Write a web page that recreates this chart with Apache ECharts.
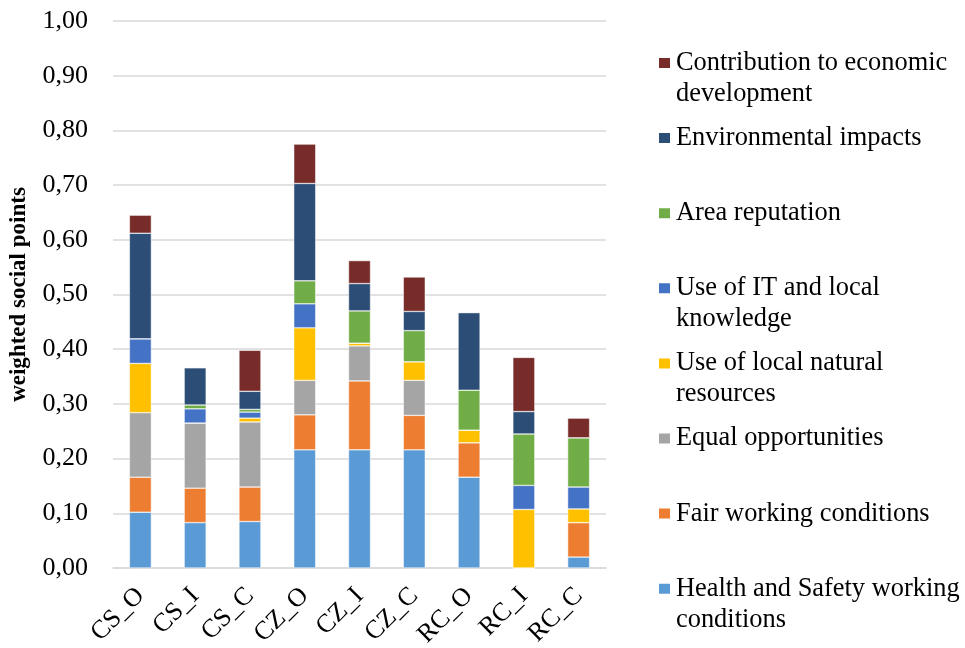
<!DOCTYPE html>
<html>
<head>
<meta charset="utf-8">
<script src="https://cdn.jsdelivr.net/npm/echarts@6/dist/echarts.min.js"></script>
<style>
  html, body { margin: 0; padding: 0; background: #fff; }
  #chart { width: 965px; height: 648px; }
</style>
</head>
<body>
<div id="chart"></div>
<script>
const categories = ['CS_O', 'CS_I', 'CS_C', 'CZ_O', 'CZ_I', 'CZ_C', 'RC_O', 'RC_I', 'RC_C']

// stacked from the bottom up
const health  = [0.102, 0.083, 0.085, 0.216, 0.216, 0.216, 0.166, 0,     0.020]
const fair    = [0.064, 0.063, 0.063, 0.064, 0.126, 0.063, 0.063, 0,     0.063]
const equal   = [0.118, 0.119, 0.119, 0.063, 0.064, 0.064, 0,     0,     0]
const natural = [0.090, 0,     0.007, 0.096, 0.005, 0.034, 0.023, 0.107, 0.025]
const itKnow  = [0.045, 0.026, 0.011, 0.044, 0,     0,     0,     0.044, 0.040]
const area    = [0,     0.007, 0.005, 0.042, 0.059, 0.057, 0.073, 0.094, 0.090]
const env     = [0.193, 0.068, 0.033, 0.178, 0.050, 0.035, 0.142, 0.041, 0]
const econ    = [0.033, 0.001, 0.075, 0.072, 0.042, 0.063, 0,     0.099, 0.036]

const seriesNames = [
  'Health and Safety working conditions',
  'Fair working conditions',
  'Equal opportunities',
  'Use of local natural resources',
  'Use of IT and local knowledge',
  'Area reputation',
  'Environmental impacts',
  'Contribution to economic development',
]
const seriesData = [health, fair, equal, natural, itKnow, area, env, econ]
const colors = ['#5B9BD5', '#ED7D31', '#A5A5A5', '#FFC000', '#4472C4', '#70AD47', '#2C4D75', '#772C2A']

// legend text as shown (with wrapping)
const legendLabels = {
  'Contribution to economic development': ['Contribution to economic', 'development'],
  'Use of IT and local knowledge': ['Use of IT and local', 'knowledge'],
  'Use of local natural resources': ['Use of local natural', 'resources'],
  'Health and Safety working conditions': ['Health and Safety working', 'conditions'],
}

const FONT = '"Liberation Serif", "Times New Roman", serif'
const LH = 31

// every legend entry is a 3-line block whose middle line sits level with the icon
function legendText(n) {
  const l = legendLabels[n]
  return l ? '\n' + l[0] + '\n' + l[1] : '\n' + n + '\n'
}

const legendOrder = seriesNames.slice().reverse()
const legends = legendOrder.map((name, i) => ({
  data: [name],
  left: 657,
  top: 63 + i * 75.1 - 1.5 * LH,
  padding: 0,
  itemWidth: 13,
  itemHeight: 12,
  icon: 'rect',
  selectedMode: false,
  formatter: legendText,
  textStyle: { fontFamily: FONT, fontSize: 26.4, color: '#000', lineHeight: LH },
}))

const chart = echarts.init(document.getElementById('chart'))
chart.setOption({
  animation: false,
  backgroundColor: '#fff',
  color: colors,
  legend: legends,
  grid: { left: 113, right: 359, top: 21, bottom: 80, containLabel: false, outerBoundsMode: 'none' },
  xAxis: {
    type: 'category',
    data: categories,
    axisTick: { show: false },
    axisLine: { lineStyle: { color: '#D9D9D9', width: 1.5 } },
    axisLabel: { color: '#000', fontFamily: FONT, fontSize: 26, rotate: 45, margin: 24, interval: 0 },
  },
  yAxis: {
    type: 'value',
    min: 0, max: 1, interval: 0.1,
    name: 'weighted social points',
    nameLocation: 'middle',
    nameGap: 82,
    nameRotate: 90,
    nameTextStyle: { color: '#000', fontFamily: FONT, fontSize: 23, fontWeight: 'bold' },
    axisLine: { show: false },
    axisTick: { show: false },
    splitLine: { lineStyle: { color: '#D9D9D9', width: 1.5 } },
    axisLabel: {
      color: '#000', fontFamily: FONT, fontSize: 26, margin: 25,
      formatter: v => v.toFixed(2).replace('.', ','),
    },
  },
  series: seriesNames.map((name, i) => ({
    name,
    type: 'bar',
    stack: 'total',
    barWidth: 22,
    data: seriesData[i],
    itemStyle: { color: colors[i], borderColor: '#fff', borderWidth: 0.5 },
  })),
})
</script>
</body>
</html>
